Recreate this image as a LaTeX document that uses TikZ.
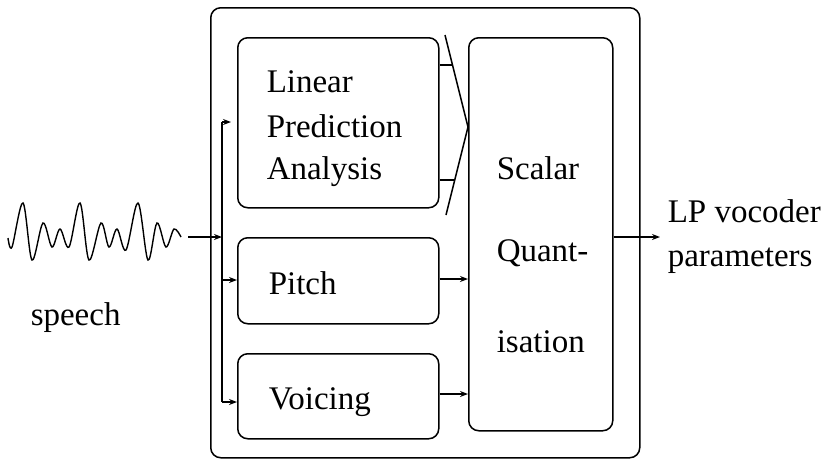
\documentclass[tikz,border=0pt]{standalone}
\usepackage{fontspec}
\setmainfont{LiberationSerif}[Extension=.ttf, UprightFont=*-Regular, BoldFont=*-Bold]
\usetikzlibrary{arrows.meta}
\begin{document}
\begin{tikzpicture}[x=1pt,y=-1pt,
  every path/.style={line width=1.5pt},
  blk/.style={draw, rounded corners=10pt, anchor=north west, inner sep=0pt},
  lbl/.style={anchor=base west, inner sep=0pt, font=\rmfamily\fontsize{33}{33}\selectfont},
  arr/.style={-{Stealth[length=8pt,width=6pt]}}]
\useasboundingbox (0,0) rectangle (831,459);
% boxes
\node[blk, minimum width=429pt, minimum height=450pt] (outer) at (210,7) {};
\node[blk, minimum width=201pt, minimum height=170pt] (lpa) at (237,37) {};
\node[blk, minimum width=201pt, minimum height=86pt] (pitch) at (237,237) {};
\node[blk, minimum width=201pt, minimum height=85pt] (voic) at (237,353) {};
\node[blk, minimum width=144pt, minimum height=393pt] (sq) at (468,37) {};
% texts
\node[lbl] (t1) at (266,92) {Linear};
\node[lbl] (t2) at (266,137) {Prediction};
\node[lbl] (t3) at (266,179) {Analysis};
\node[lbl] (tp) at (268,294) {Pitch};
\node[lbl] (tv) at (268,409) {Voicing};
\node[lbl] (s1) at (496,179) {Scalar};
\node[lbl] (s2) at (496,261) {Quant-};
\node[lbl] (s3) at (496,352) {isation};
\node[lbl] (o1) at (667,222) {LP vocoder};
\node[lbl] (o2) at (667,266) {parameters};
\node[lbl] (sp) at (30,325) {speech};
% waveform
\draw[line width=1.4pt] plot[smooth, tension=0.55] coordinates {
 (8,238) (12,247) (23,203) (32,260) (43,223) (52,247) (60,229) (69,247)
 (80,203) (89,260) (101,223) (109,247) (117,229) (126,250)
 (138,203) (148,260) (157,223) (166,247) (174,229) (181,237)};
\coordinate (wend) at (188,237);
% bus
\coordinate (btop) at (222,122);
\coordinate (bmid) at (222,237);
\coordinate (bpit) at (222,280);
\coordinate (bbot) at (222,402);
\draw (btop) -- (bbot);
\draw[arr] (wend) -- (bmid);
\draw[arr] (btop) -- (231,122);
\draw[arr] (bpit) -- (pitch.west |- bpit);
\draw[arr] (bbot) -- (voic.west |- bbot);
% to scalar quantisation
\draw[arr] (pitch.east |- 0,279) -- (sq.west |- 0,279);
\draw[arr] (voic.east |- 0,394) -- (sq.west |- 0,394);
\coordinate (ftop) at (445,35);
\coordinate (fbot) at (446,215);
\coordinate (ftip) at (sq.west |- 0,127);
\draw (ftop) -- (ftip) -- (fbot);
\draw (lpa.east |- 0,65) -- (452.5,65);
\draw (lpa.east |- 0,180) -- (454.7,180);
% output
\draw[arr] (sq.east |- 0,237) -- (660,237);
\end{tikzpicture}
\end{document}
